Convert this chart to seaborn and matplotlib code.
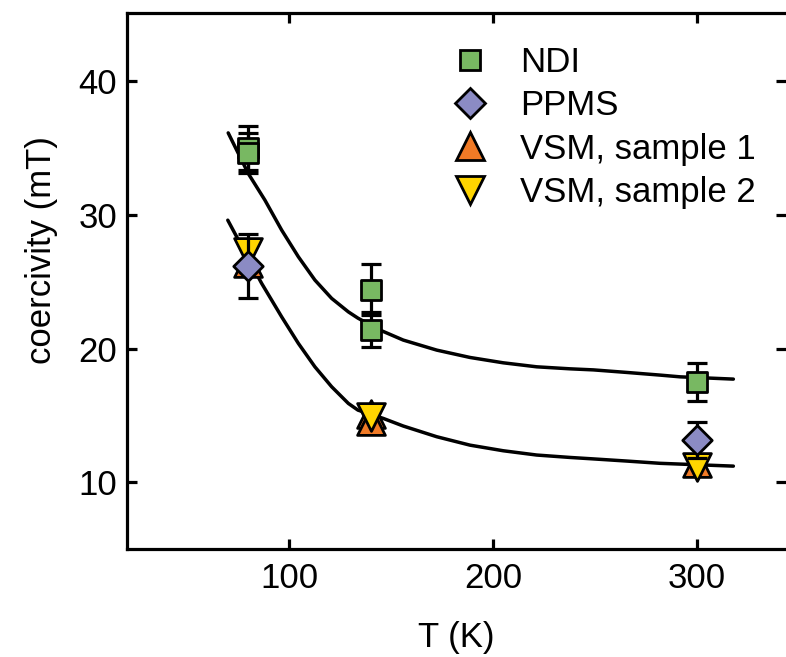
import numpy as np
import pandas as pd
import matplotlib
matplotlib.use("Agg")
import matplotlib.pyplot as plt
from matplotlib.lines import Line2D
import seaborn as sns

# ---------------- data ----------------
T_ndi = [80, 80, 140, 140, 300]
hc_ndi = [35.0, 34.65, 24.4, 21.4, 17.5]
err_ndi = [1.65, 1.5, 1.9, 1.3, 1.45]

T_ppms = [80, 300]
hc_ppms = [26.2, 13.15]
err_ppms = [2.4, 1.35]

T_vsm1 = [80, 140, 140, 300]
hc_vsm1 = [26.4, 15.1, 14.6, 11.4]

T_vsm2 = [80, 140, 300]
hc_vsm2 = [27.2, 14.85, 11.1]

# fit curves, points
fit_up_T = [70.2, 80.0, 88.2, 96.4, 104.6, 112.7, 120.9, 129.1, 133.8, 144.6, 156.0,
            172.4, 188.7, 205.0, 221.4, 237.7, 249.2, 265.5, 281.9, 291.7, 317.8]
fit_up_hc = [36.13, 33.10, 31.10, 28.86, 26.86, 25.12, 23.75, 22.74, 22.27, 21.38, 20.63,
             19.88, 19.33, 18.93, 18.63, 18.48, 18.40, 18.21, 18.01, 17.88, 17.71]
fit_lo_T = [70.0, 86.6, 96.4, 104.6, 112.7, 120.9, 129.1, 133.8, 146.2, 156.0,
            172.4, 188.7, 205.0, 221.4, 237.7, 249.2, 265.5, 281.9, 317.8]
fit_lo_hc = [29.60, 24.87, 22.37, 20.38, 18.63, 17.14, 15.89, 15.39, 14.77, 14.20,
             13.40, 12.77, 12.35, 12.03, 11.85, 11.74, 11.58, 11.41, 11.20]

labels = ["NDI", "PPMS", "VSM, sample 1", "VSM, sample 2"]
colors = ["#78b862", "#8b8bc4", "#f07a26", "#ffd500"]
markers = ["s", "D", "^", "v"]
xticks = [100, 200, 300]
yticks = [10, 20, 30, 40]

# ---------------- style ----------------
sns.set_style("ticks")
plt.rcParams["font.family"] = ["Liberation Sans", "DejaVu Sans"]
fs = 25
plt.rcParams.update({"font.size": fs, "text.color": "black", "axes.labelcolor": "black",
                     "xtick.color": "black", "ytick.color": "black",
                     "xtick.labelcolor": "black", "ytick.labelcolor": "black"})

fig = plt.figure(figsize=(7.86, 6.57), dpi=100)
ax = fig.add_axes([127 / 786, 1 - 549 / 657, (786 - 127) / 786, (549 - 13) / 657])

lw = 2.3
fit_up = pd.DataFrame({"T": fit_up_T, "hc": fit_up_hc})
fit_lo = pd.DataFrame({"T": fit_lo_T, "hc": fit_lo_hc})
for d in (fit_up, fit_lo):
    sns.lineplot(data=d, x="T", y="hc", sort=False, estimator=None, color="black",
                 lw=2.5, ax=ax, zorder=1)

ms = {"s": 15, "D": 15, "^": 20, "v": 20}
mew = 2.0

def scat(T, hc, i, z):
    d = pd.DataFrame({"T": T, "hc": hc})
    sns.scatterplot(data=d, x="T", y="hc", marker=markers[i], s=ms[markers[i]] ** 2,
                    color=colors[i], edgecolor="black", linewidth=mew, ax=ax,
                    zorder=z, legend=False)

scat(T_vsm1, hc_vsm1, 2, 2)
scat(T_vsm2, hc_vsm2, 3, 3)
ax.errorbar(T_ppms, hc_ppms, yerr=err_ppms, fmt="none", ecolor="black",
            elinewidth=2.3, capsize=7, capthick=2.3, zorder=3.5)
scat(T_ppms, hc_ppms, 1, 4)
ax.errorbar(T_ndi, hc_ndi, yerr=err_ndi, fmt="none", ecolor="black",
            elinewidth=2.3, capsize=7, capthick=2.3, zorder=4.5)
scat(T_ndi, hc_ndi, 0, 5)

ax.set_xlim(20.6, 343.6)
ax.set_ylim(5.0, 45.1)
ax.set_xticks(xticks)
ax.set_yticks(yticks)
ax.set_xticklabels([str(t) for t in xticks])
ax.set_yticklabels([str(t) for t in yticks])

for s in ["left", "bottom", "top"]:
    ax.spines[s].set_linewidth(lw)
    ax.spines[s].set_color("black")
ax.spines["right"].set_visible(False)
ax.tick_params(axis="both", direction="in", length=7, width=lw, color="black",
               labelsize=fs, labelcolor="black", top=True, right=True)
ax.tick_params(axis="x", pad=9)
ax.tick_params(axis="y", pad=7)

ax.set_xlabel("T (K)", fontsize=fs, color="black")
ax.set_ylabel("coercivity (mT)", fontsize=fs, color="black")
ax.xaxis.set_label_coords(0.5, -0.135)
ax.yaxis.set_label_coords(-0.105, 0.558)

handles = [Line2D([], [], linestyle="none", marker=markers[i], markersize=ms[markers[i]],
                  markerfacecolor=colors[i], markeredgecolor="black",
                  markeredgewidth=mew) for i in range(4)]
ax.legend(handles, labels, loc="upper left", bbox_to_anchor=(418 / 786, 1 - 18 / 657),
          bbox_transform=fig.transFigure, frameon=False, fontsize=fs,
          labelspacing=0.3, handletextpad=0.75, borderpad=0.3, handlelength=1.4)

fig.savefig("out.png", dpi=100)
